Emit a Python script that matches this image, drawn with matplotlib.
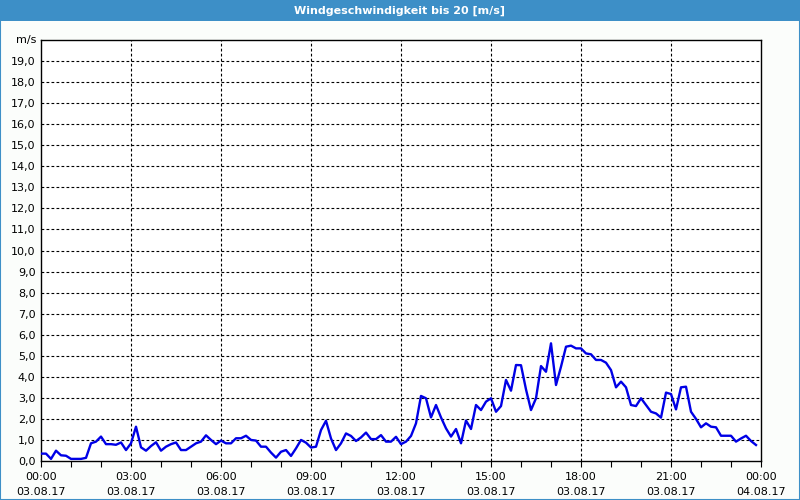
import matplotlib
matplotlib.use("Agg")
import matplotlib.pyplot as plt
import numpy as np
from matplotlib.patches import Rectangle

title = "Windgeschwindigkeit bis 20 [m/s]"
unit = "m/s"
sample_minutes = 10
wind = [0.35, 0.35, 0.10, 0.49, 0.27, 0.25, 0.10, 0.10, 0.10, 0.15,
        0.84, 0.92, 1.16, 0.80, 0.80, 0.77, 0.88, 0.52, 0.84, 1.63,
        0.65, 0.49, 0.71, 0.89, 0.49, 0.68, 0.80, 0.88, 0.52, 0.52,
        0.68, 0.84, 0.92, 1.22, 1.00, 0.80, 0.97, 0.84, 0.84, 1.08,
        1.08, 1.20, 1.00, 0.97, 0.68, 0.68, 0.40, 0.16, 0.44, 0.52,
        0.24, 0.60, 1.00, 0.87, 0.64, 0.68, 1.47, 1.91, 1.07, 0.52,
        0.84, 1.31, 1.19, 0.95, 1.12, 1.35, 1.04, 1.04, 1.23, 0.92,
        0.92, 1.15, 0.80, 0.92, 1.19, 1.79, 3.09, 2.98, 2.07, 2.66,
        2.07, 1.55, 1.16, 1.52, 0.84, 1.92, 1.52, 2.66, 2.42, 2.82,
        2.98, 2.34, 2.61, 3.85, 3.34, 4.56, 4.55, 3.40, 2.42, 2.98,
        4.51, 4.24, 5.59, 3.61, 4.48, 5.43, 5.48, 5.35, 5.35, 5.11,
        5.07, 4.80, 4.80, 4.67, 4.32, 3.50, 3.77, 3.50, 2.66, 2.61,
        2.98, 2.66, 2.34, 2.26, 2.06, 3.25, 3.18, 2.45, 3.50, 3.53,
        2.34, 2.00, 1.60, 1.79, 1.63, 1.60, 1.20, 1.20, 1.20, 0.92,
        1.07, 1.20, 0.95, 0.76]
x_tick_times = ["00:00", "03:00", "06:00", "09:00", "12:00",
                "15:00", "18:00", "21:00", "00:00"]
x_tick_dates = ["03.08.17", "03.08.17", "03.08.17", "03.08.17", "03.08.17",
                "03.08.17", "03.08.17", "03.08.17", "04.08.17"]
y_ticks = list(range(0, 20))

hours = np.arange(len(wind)) * sample_minutes / 60.0

fig = plt.figure(figsize=(8, 5), dpi=100)
fig.patch.set_facecolor("#fbfdfb")

# title bar
fig.patches.append(Rectangle((0, 1 - 21 / 500), 1, 21 / 500, transform=fig.transFigure,
                             facecolor="#3d8fc7", edgecolor="none", zorder=0))
fig.text(0.5, 1 - 10.5 / 500, title, color="white", ha="center", va="center",
         fontsize=8, fontweight="bold", family="DejaVu Sans")
# outer border
fig.patches.append(Rectangle((0, 0), 1, 1, transform=fig.transFigure, fill=False,
                             edgecolor="#3d8fc7", linewidth=1.5, zorder=0))

ax = fig.add_axes([41 / 800, 39 / 500, 720 / 800, 421 / 500])
ax.set_facecolor("white")
ax.plot(hours, wind, color="#0000e6", linewidth=1.7, zorder=3)

ax.set_xlim(0, 24)
ax.set_ylim(0, 20)
ax.set_yticks(y_ticks)
ax.set_yticklabels([f"{v},0" for v in y_ticks], fontsize=8)
ax.set_xticks(np.arange(0, 25, 3))
ax.set_xticklabels([f"{t}\n{d}" for t, d in zip(x_tick_times, x_tick_dates)],
                   fontsize=8, linespacing=1.6)
ax.set_xticks(np.arange(0, 25, 1), minor=True)
ax.tick_params(axis="y", length=0, pad=4)
ax.tick_params(axis="x", which="both", length=4, direction="out", pad=4, width=0.8)
for v in y_ticks[1:]:
    ax.axhline(v, color="black", linewidth=0.8, linestyle=(0, (2.5, 2)), zorder=1)
for h in range(3, 24, 3):
    ax.axvline(h, color="black", linewidth=0.8, linestyle=(0, (2.5, 2)), zorder=1)
for s in ax.spines.values():
    s.set_color("black")
    s.set_linewidth(1.0)

ax.text(-0.006, 20, unit, transform=ax.get_yaxis_transform(), ha="right",
        va="center", fontsize=8)

fig.savefig("out.png", dpi=100, facecolor=fig.get_facecolor())
